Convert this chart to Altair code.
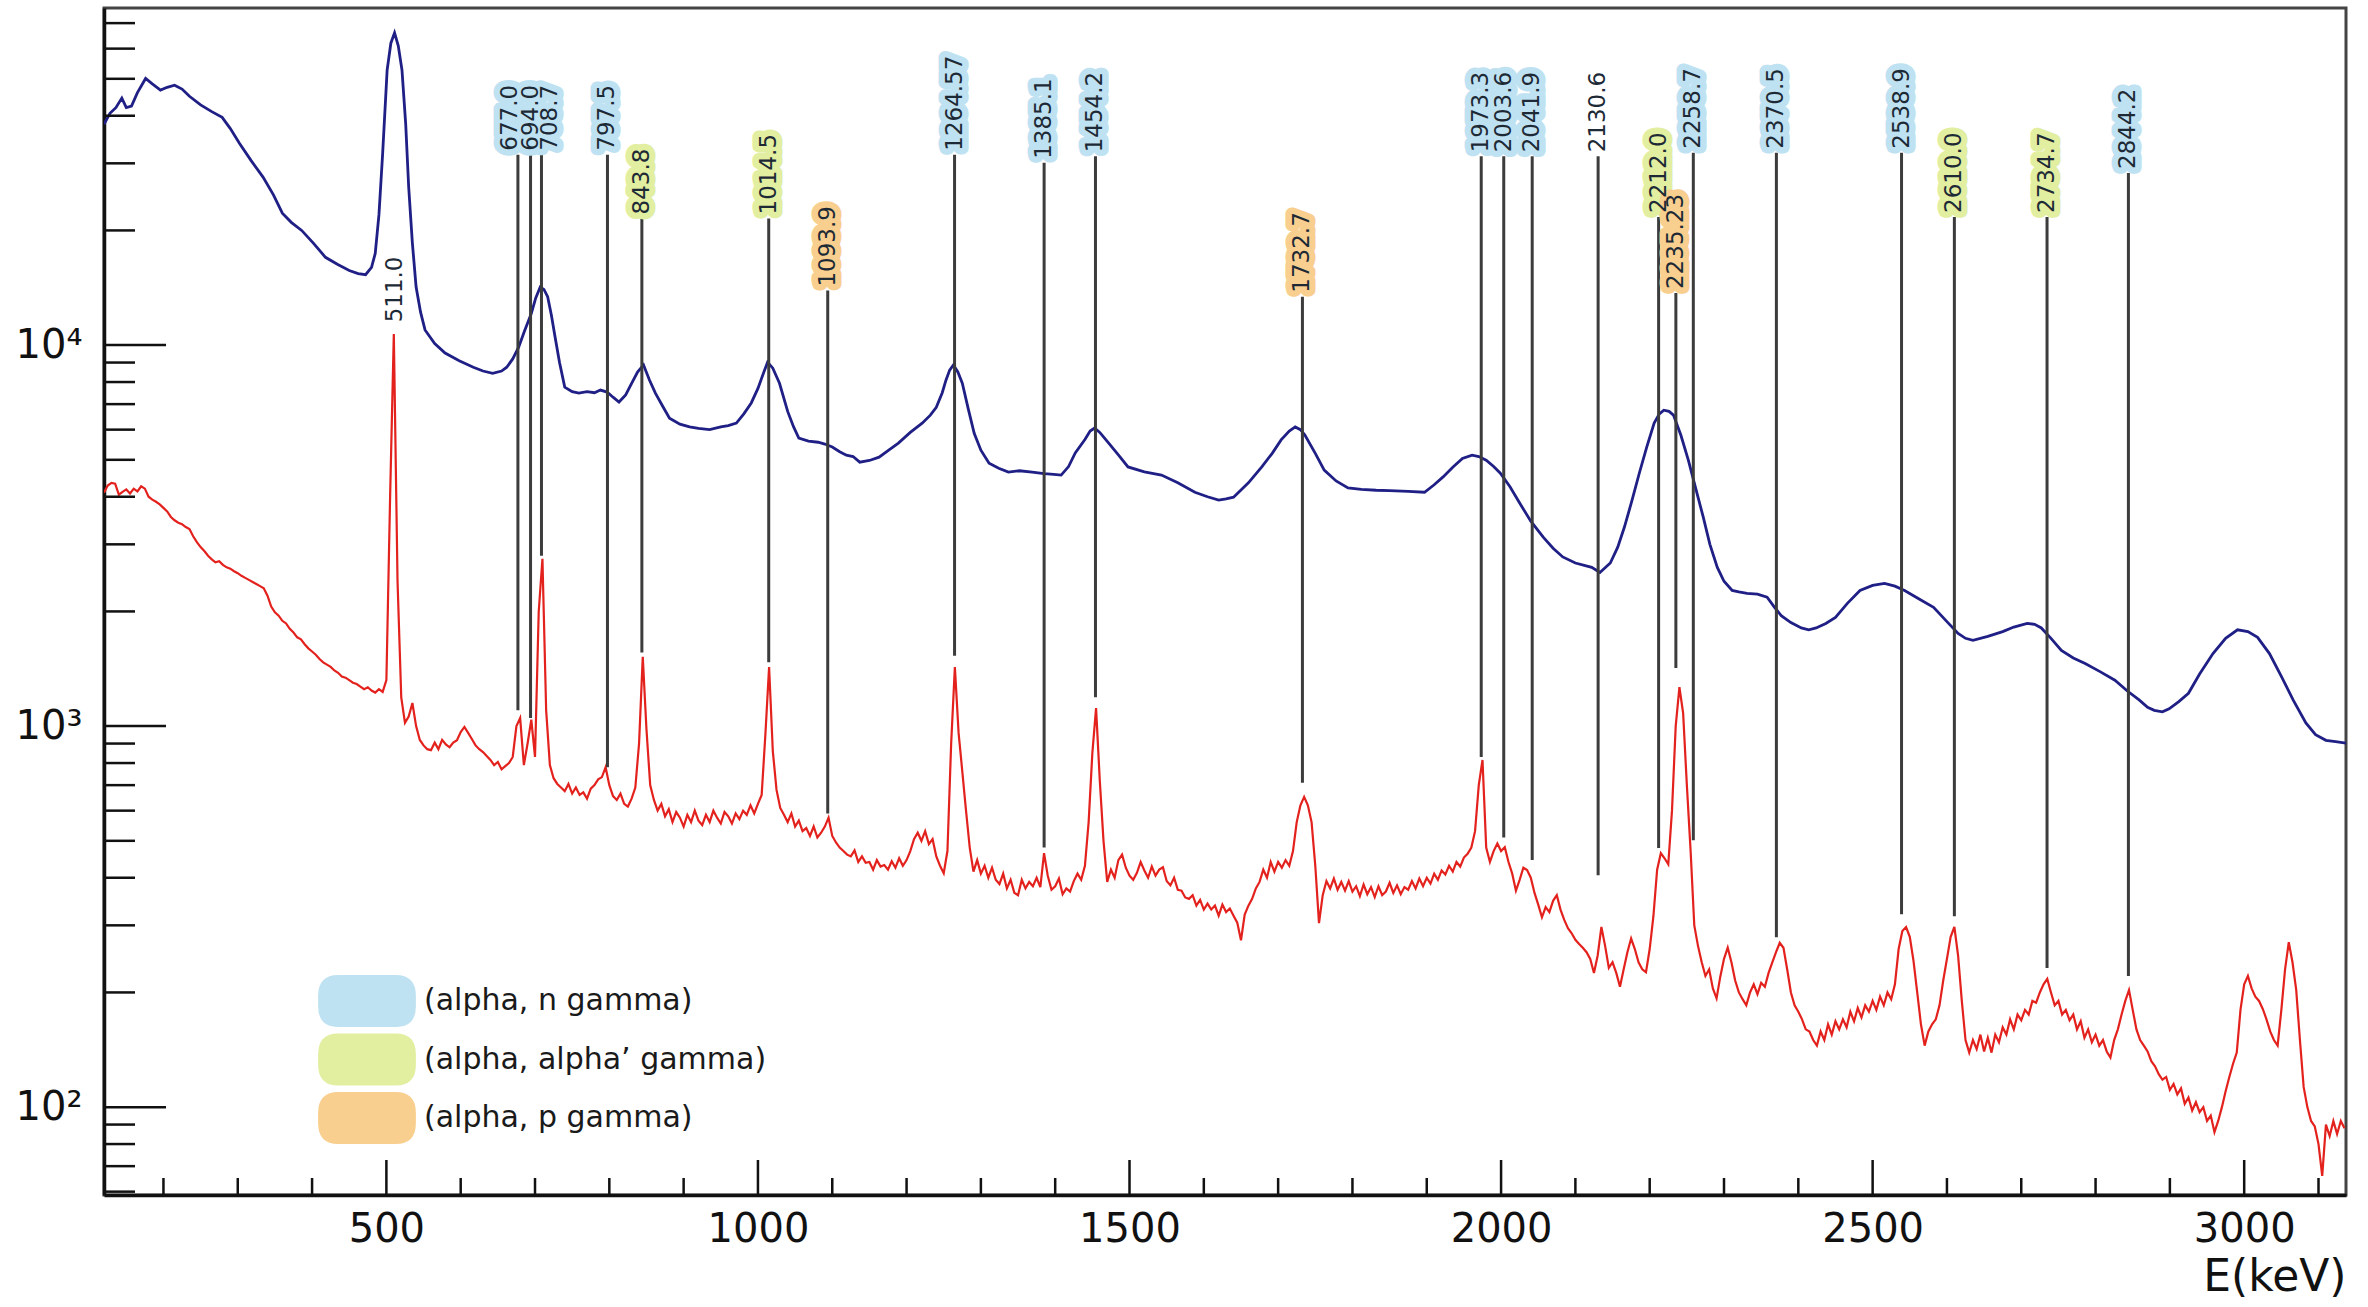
import altair as alt
import pandas as pd

FONT = "DejaVu Sans"

# ---- upper spectrum (energy in keV, counts per bin) ----
blue_energy = [120, 128, 136, 144, 150, 157, 165, 176, 185, 196, 205, 215, 225, 235, 250, 265, 279, 290, 302, 318,
               334, 348, 360, 372, 386, 402, 418, 434, 450, 462, 472, 480, 485, 490, 495, 501, 506, 511, 516, 521,
               526, 530, 535, 540, 546, 552, 565, 579, 598, 617, 630, 643, 655, 662, 670, 678, 686, 695, 701, 707,
               712, 717, 722, 727, 733, 740, 750, 759, 770, 780, 788, 797, 805, 813, 822, 830, 838, 846, 854, 862,
               872, 881, 895, 908, 920, 935, 950, 960, 971, 981, 991, 1000, 1008, 1013, 1020, 1029, 1040, 1048, 1055, 1068,
               1081, 1090, 1100, 1110, 1119, 1128, 1137, 1150, 1163, 1176, 1189, 1205, 1221, 1232, 1240, 1248, 1253, 1258, 1263, 1269,
               1275, 1283, 1291, 1300, 1311, 1324, 1337, 1352, 1369, 1385, 1398, 1408, 1418, 1427, 1440, 1447, 1453, 1460, 1472, 1485,
               1498, 1520, 1543, 1565, 1588, 1605, 1620, 1630, 1640, 1660, 1678, 1692, 1704, 1715, 1723, 1730, 1736, 1750, 1762, 1778,
               1794, 1812, 1832, 1850, 1875, 1897, 1910, 1922, 1935, 1948, 1961, 1970, 1980, 1990, 1999, 2012, 2025, 2040, 2057, 2070,
               2083, 2100, 2122, 2133, 2147, 2157, 2166, 2176, 2186, 2196, 2206, 2213, 2219, 2226, 2232, 2242, 2252, 2262, 2272, 2281,
               2291, 2300, 2311, 2320, 2331, 2345, 2358, 2368, 2377, 2390, 2404, 2414, 2424, 2437, 2450, 2466, 2483, 2500, 2516, 2530,
               2543, 2562, 2582, 2600, 2615, 2625, 2635, 2655, 2675, 2690, 2708, 2718, 2727, 2740, 2754, 2770, 2786, 2806, 2826, 2842,
               2859, 2870, 2879, 2890, 2899, 2912, 2925, 2940, 2958, 2975, 2991, 3005, 3018, 3034, 3050, 3066, 3083, 3096, 3110, 3123,
               3137]
blue_counts = [38000, 40600, 42000, 44500, 42000, 42400, 46000, 50100, 48500, 46700, 47500, 48100, 47000, 45000, 42700, 41000, 39600, 37000, 33900, 30500,
               27600, 24800, 22200, 21000, 20000, 18500, 17000, 16300, 15700, 15400, 15300, 16000, 17400, 22000, 31900, 52700, 62000, 66000, 61000, 52700,
               38000, 26000, 18500, 14200, 12200, 10960, 10100, 9530, 9100, 8750, 8550, 8430, 8550, 8750, 9200, 9880, 10900, 12100, 13300, 14200,
               14000, 13400, 12000, 10500, 9000, 7760, 7550, 7480, 7550, 7500, 7620, 7530, 7300, 7090, 7400, 7940, 8500, 8870, 8100, 7480,
               6900, 6430, 6200, 6100, 6050, 6000, 6100, 6150, 6240, 6600, 7050, 7700, 8500, 9020, 8700, 7940, 6700, 6100, 5700, 5600,
               5560, 5500, 5400, 5250, 5140, 5100, 4930, 4980, 5080, 5300, 5530, 5900, 6240, 6550, 6870, 7500, 8090, 8600, 8870, 8500,
               7940, 6800, 5870, 5300, 4900, 4750, 4640, 4680, 4640, 4600, 4580, 4560, 4800, 5210, 5650, 5950, 6060, 5900, 5530, 5150,
               4790, 4650, 4560, 4350, 4110, 4000, 3920, 3950, 3990, 4350, 4790, 5200, 5640, 5950, 6100, 6000, 5810, 5200, 4700, 4400,
               4220, 4180, 4160, 4150, 4130, 4110, 4300, 4510, 4780, 5040, 5140, 5100, 4990, 4800, 4610, 4250, 3850, 3450, 3130, 2930,
               2780, 2680, 2610, 2530, 2680, 2950, 3330, 3900, 4610, 5400, 6240, 6600, 6750, 6700, 6550, 5800, 4990, 4200, 3540, 3000,
               2610, 2400, 2270, 2250, 2230, 2220, 2180, 2050, 1950, 1870, 1810, 1790, 1810, 1860, 1930, 2100, 2270, 2340, 2370, 2330,
               2270, 2160, 2050, 1880, 1750, 1700, 1680, 1720, 1770, 1820, 1860, 1850, 1810, 1700, 1580, 1510, 1460, 1390, 1320, 1240,
               1170, 1120, 1100, 1090, 1110, 1160, 1220, 1370, 1550, 1700, 1790, 1770, 1710, 1550, 1350, 1170, 1020, 950, 918, 910,
               902]

# ---- lower spectrum: 5 keV bins starting at 120 keV, one row per 100 keV ----
red_bin_start, red_bin_width = 120, 5
red_counts = [
    4100, 4280, 4350, 4330, 4050, 4120, 4180, 4080, 4200, 4130, 4260, 4200, 4000, 3930, 3880, 3820, 3740, 3660, 3540, 3470,
    3420, 3390, 3330, 3290, 3150, 3040, 2950, 2880, 2800, 2740, 2690, 2710, 2650, 2610, 2590, 2550, 2520, 2480, 2450, 2420,
    2390, 2360, 2330, 2300, 2200, 2060, 1990, 1950, 1890, 1860, 1800, 1760, 1710, 1690, 1640, 1600, 1570, 1540, 1500, 1470,
    1450, 1430, 1400, 1380, 1350, 1340, 1320, 1300, 1290, 1270, 1250, 1265, 1240, 1225, 1250, 1230, 1320, 3990, 10700, 2400,
    1190, 1020, 1060, 1150, 1000, 920, 890, 870, 865, 905, 870, 920, 895, 880, 905, 918, 965, 995, 960, 925,
    890, 870, 855, 835, 815, 790, 805, 770, 785, 800, 830, 1000, 1050, 790, 900, 1040, 830, 2000, 2750, 1100,
    790, 730, 705, 690, 675, 705, 665, 690, 660, 670, 645, 685, 700, 725, 735, 780, 700, 655, 640, 665,
    625, 615, 645, 690, 900, 1520, 980, 700, 640, 600, 625, 580, 605, 560, 595, 575, 545, 585, 560, 600,
    565, 550, 585, 560, 600, 575, 555, 595, 580, 555, 590, 570, 600, 585, 620, 590, 625, 660, 950, 1430,
    860, 680, 610, 585, 560, 590, 545, 565, 530, 540, 515, 545, 510, 525, 545, 575, 515, 495, 480, 470,
    460, 455, 472, 440, 455, 438, 440, 420, 445, 428, 432, 420, 442, 425, 450, 430, 445, 470, 505, 525,
    500, 530, 490, 505, 455, 430, 411, 470, 900, 1430, 960, 760, 600, 480, 415, 445, 410, 430, 400, 425,
    395, 385, 410, 375, 395, 365, 360, 395, 375, 390, 380, 400, 378, 464, 405, 372, 380, 398, 362, 375,
    368, 392, 410, 395, 430, 560, 850, 1115, 720, 500, 390, 420, 400, 445, 460, 425, 405, 395, 412, 440,
    418, 400, 428, 405, 420, 426, 392, 382, 400, 372, 370, 355, 352, 360, 338, 350, 330, 342, 330, 338,
    318, 340, 325, 332, 318, 305, 274, 320, 338, 352, 375, 390, 420, 400, 440, 415, 440, 425, 445, 430,
    470, 560, 620, 652, 620, 560, 430, 304, 360, 392, 375, 398, 372, 390, 370, 392, 368, 380, 358, 384,
    362, 378, 356, 380, 360, 368, 388, 365, 382, 362, 378, 372, 392, 375, 398, 380, 400, 386, 410, 395,
    418, 408, 430, 415, 440, 428, 452, 462, 480, 530, 700, 815, 480, 440, 470, 492, 470, 481, 440, 410,
    370, 395, 425, 419, 400, 365, 340, 315, 335, 325, 348, 360, 330, 310, 295, 286, 275, 268, 262, 255,
    245, 225, 250, 297, 265, 232, 240, 225, 207, 230, 255, 277, 260, 240, 230, 226, 260, 317, 420, 464,
    450, 434, 600, 1000, 1265, 1082, 700, 473, 300, 265, 240, 221, 230, 205, 193, 220, 245, 262, 240, 215,
    200, 192, 185, 200, 210, 198, 212, 207, 225, 240, 255, 270, 262, 230, 200, 185, 178, 170, 160, 158,
    150, 145, 158, 150, 165, 155, 168, 160, 170, 162, 178, 168, 182, 172, 185, 178, 190, 180, 195, 185,
    200, 192, 210, 260, 290, 297, 280, 242, 200, 165, 145, 158, 165, 170, 185, 215, 245, 280, 297, 250,
    190, 150, 139, 150, 142, 155, 140, 152, 139, 155, 148, 162, 155, 170, 160, 175, 169, 180, 175, 190,
    188, 200, 210, 217, 200, 185, 190, 175, 180, 169, 175, 160, 168, 152, 160, 148, 155, 145, 150, 140,
    135, 150, 160, 175, 190, 203, 180, 160, 150, 145, 140, 132, 128, 122, 118, 120, 111, 115, 108, 112,
    102, 106, 98, 103, 97, 100, 92, 95, 86, 92, 100, 110, 120, 130, 139, 180, 210, 221, 205, 195,
    190, 181, 170, 158, 150, 145, 180, 230, 271, 240, 203, 150, 113, 100, 92, 89, 80, 66, 90, 84,
    92, 85, 92, 88,
]
red_energy = [red_bin_start + red_bin_width * i for i in range(len(red_counts))]

# ---- annotated gamma lines ----
peak_labels = ["511.0", "677.0", "694.0", "708.7", "797.5", "843.8", "1014.5", "1093.9", "1264.57", "1385.1",
               "1454.2", "1732.7", "1973.3", "2003.6", "2041.9", "2130.6", "2212.0", "2235.23", "2258.7", "2370.5",
               "2538.9", "2610.0", "2734.7", "2844.2"]
N_G = "(alpha, n gamma)"
A_G = "(alpha, alpha\u2019 gamma)"
P_G = "(alpha, p gamma)"
peak_kinds = ["annihilation", N_G, N_G, N_G, N_G, A_G, A_G, P_G, N_G, N_G,
              N_G, P_G, N_G, N_G, N_G, "unassigned", A_G, P_G, N_G, N_G,
              N_G, A_G, A_G, N_G]
line_top = [11200, 31600, 31600, 31600, 31600, 21500, 21500, 13900, 31600, 30100,
            31300, 13400, 31300, 31300, 31300, 31300, 21700, 13700, 32000, 32000,
            32000, 21700, 21700, 28300]
line_bottom = [11200, 1100, 1050, 2800, 780, 1560, 1470, 590, 1530, 480,
               1190, 710, 830, 510, 445, 406, 479, 1420, 502, 279,
               321, 317, 232, 221]

reaction_names = [N_G, A_G, P_G]
reaction_colors = ["#bfe2f2", "#e2eea0", "#f8cf8e"]

# ---- axis ticks ----
x_major = [500, 1000, 1500, 2000, 2500, 3000]
x_minor = [200, 300, 400, 600, 700, 800, 900, 1100, 1200, 1300, 1400, 1600, 1700, 1800, 1900,
           2100, 2200, 2300, 2400, 2600, 2700, 2800, 2900, 3100]
y_major = [100, 1000, 10000]
y_minor = [60, 70, 80, 90, 200, 300, 400, 500, 600, 700, 800, 900,
           2000, 3000, 4000, 5000, 6000, 7000, 8000, 9000,
           20000, 30000, 40000, 50000, 60000, 70000]

W, H = 2242, 1187

blue_df = pd.DataFrame({"E": blue_energy, "C": blue_counts})
red_df = pd.DataFrame({"E": red_energy, "C": red_counts})
peaks_df = pd.DataFrame({
    "E": [float(s) for s in peak_labels],
    "label": peak_labels,
    "kind": peak_kinds,
    "C": line_top,
    "C2": line_bottom,
})

x_scale = alt.Scale(domain=[120, 3137], nice=False, zero=False)
y_scale = alt.Scale(type="log", domain=[58.8, 76700], nice=False)

x_axis = alt.Axis(values=x_major, format="d", labelFont=FONT, labelFontSize=40, labelColor="#111111",
                  labelPadding=14, ticks=False, tickSize=0, domain=True, domainColor="#111111",
                  domainWidth=3.5, grid=False, title="E(keV)", titleFont=FONT, titleFontSize=44,
                  titleFontWeight="normal", titleColor="#111111", titleAnchor="end", titlePadding=6,
                  labelFlush=False)
y_axis = alt.Axis(values=y_major,
                  labelExpr="datum.value == 100 ? '10\u00b2' : datum.value == 1000 ? '10\u00b3' : '10\u2074'",
                  labelFont=FONT, labelFontSize=40, labelColor="#111111", labelPadding=22,
                  ticks=False, tickSize=0, domain=True, domainColor="#111111", domainWidth=3.5,
                  grid=False, title=None)

X = alt.X("E:Q", scale=x_scale, axis=x_axis)
Y = alt.Y("C:Q", scale=y_scale, axis=y_axis)

blue_line = alt.Chart(blue_df).mark_line(color="#1f1f86", strokeWidth=2.8, clip=True).encode(x=X, y=Y)
red_line = alt.Chart(red_df).mark_line(color="#e3211d", strokeWidth=2.2, clip=True).encode(x=X, y=Y)

drop_lines = alt.Chart(peaks_df).transform_filter(
    alt.FieldOneOfPredicate(field="kind", oneOf=reaction_names + ["unassigned"])
).mark_rule(color="#3c3c3c", strokeWidth=3).encode(x=X, y=Y, y2=alt.Y2("C2:Q"))

ROUND_BOX = ("M-1.1,-1 L1.1,-1 Q1.88,-1 1.88,-0.2 L1.88,0.2 Q1.88,1 1.1,1 L-1.1,1 "
             "Q-1.88,1 -1.88,0.2 L-1.88,-0.2 Q-1.88,-1 -1.1,-1 Z")

reaction_legend = alt.Legend(orient="none", legendX=237, legendY=967, title=None,
                             symbolType=ROUND_BOX, symbolSize=2704, symbolStrokeWidth=0,
                             symbolOpacity=1, labelFont=FONT, labelFontSize=30,
                             labelColor="#1a1a1a", labelOffset=31, rowPadding=6.5,
                             padding=0, labelLimit=0, direction="vertical")

# the three crowded labels near 700 keV are pushed sideways a little
label_shift = {"677.0": -8, "708.7": 9}
label_groups = [([s for s in peak_labels if s not in label_shift], 0)] + \
               [([s], d) for s, d in label_shift.items()]

bg_layers, text_layers = [], []
for group, shift in label_groups:
    base = alt.Chart(peaks_df).transform_filter(alt.FieldOneOfPredicate(field="label", oneOf=group))
    bg_layers.append(base.transform_filter(
        alt.FieldOneOfPredicate(field="kind", oneOf=reaction_names)
    ).mark_text(angle=270, align="left", baseline="middle", dx=4, dy=shift, font=FONT, fontSize=23,
                strokeWidth=13, strokeJoin="round", strokeCap="round").encode(
        x=X, y=Y, text="label:N",
        color=alt.Color("kind:N", scale=alt.Scale(domain=reaction_names, range=reaction_colors),
                        legend=reaction_legend),
        stroke=alt.Stroke("kind:N", scale=alt.Scale(domain=reaction_names, range=reaction_colors),
                          legend=None),
    ))
    text_layers.append(base.mark_text(angle=270, align="left", baseline="middle", dx=4, dy=shift,
                                      font=FONT, fontSize=23, color="#1d2a36").encode(
        x=X, y=Y, text="label:N"))

# inward-pointing ticks along the bottom and left edges
xmaj = alt.Chart(pd.DataFrame({"E": x_major})).mark_rule(color="#111111", strokeWidth=2.5).encode(
    x=X, y=alt.value(H), y2=alt.value(H - 35))
xmin = alt.Chart(pd.DataFrame({"E": x_minor})).mark_rule(color="#111111", strokeWidth=2.5).encode(
    x=X, y=alt.value(H), y2=alt.value(H - 17))
ymaj = alt.Chart(pd.DataFrame({"C": y_major})).mark_rule(color="#111111", strokeWidth=2.5).encode(
    y=Y, x=alt.value(0), x2=alt.value(62))
ymin = alt.Chart(pd.DataFrame({"C": y_minor})).mark_rule(color="#111111", strokeWidth=2.5).encode(
    y=Y, x=alt.value(0), x2=alt.value(31))

chart = alt.layer(
    blue_line, red_line, drop_lines, *bg_layers, *text_layers, xmaj, xmin, ymaj, ymin
).properties(
    width=W, height=H,
    padding={"left": 104, "top": 8, "right": 22, "bottom": 112},
    autosize=alt.AutoSizeParams(type="none"),
    background="white",
).configure_view(stroke="#444444", strokeWidth=3)

chart.save("out.html", embed_options={"renderer": "svg", "actions": False})
